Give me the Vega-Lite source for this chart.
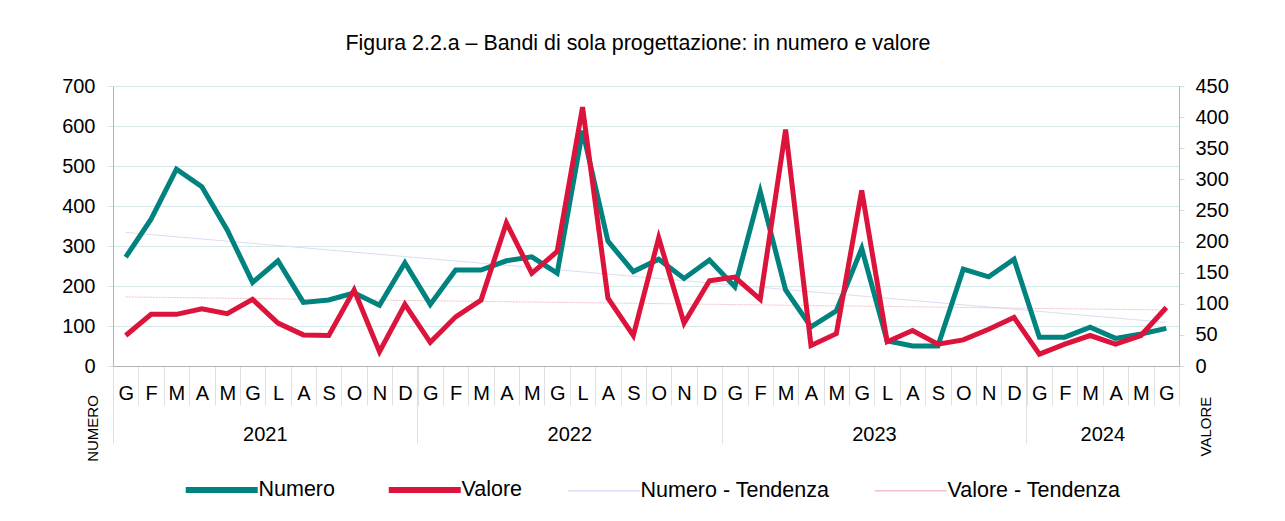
{
  "$schema": "https://vega.github.io/schema/vega-lite/v6.json",
  "width": 1066,
  "height": 280,
  "autosize": {"type": "none"},
  "padding": {"left": 113, "top": 86, "right": 106, "bottom": 155},
  "background": "white",
  "title": {
    "text": "Figura 2.2.a – Bandi di sola progettazione: in numero e valore",
    "fontSize": 21.4,
    "fontWeight": "normal",
    "font": "Liberation Sans",
    "color": "#000000",
    "anchor": "middle",
    "baseline": "alphabetic",
    "dx": -8,
    "offset": 5
  },
  "config": {
    "view": {"stroke": null},
    "font": "Liberation Sans"
  },
  "datasets": {
    "main": [
      {"mese": "2021-01", "numero": 272, "valore": 49},
      {"mese": "2021-02", "numero": 367, "valore": 83},
      {"mese": "2021-03", "numero": 492, "valore": 83},
      {"mese": "2021-04", "numero": 448, "valore": 92},
      {"mese": "2021-05", "numero": 340, "valore": 84},
      {"mese": "2021-06", "numero": 209, "valore": 107},
      {"mese": "2021-07", "numero": 263, "valore": 69},
      {"mese": "2021-08", "numero": 159, "valore": 50},
      {"mese": "2021-09", "numero": 165, "valore": 49},
      {"mese": "2021-10", "numero": 183, "valore": 122},
      {"mese": "2021-11", "numero": 152, "valore": 23},
      {"mese": "2021-12", "numero": 258, "valore": 99},
      {"mese": "2022-01", "numero": 154, "valore": 38},
      {"mese": "2022-02", "numero": 240, "valore": 79},
      {"mese": "2022-03", "numero": 240, "valore": 106},
      {"mese": "2022-04", "numero": 263, "valore": 230},
      {"mese": "2022-05", "numero": 273, "valore": 149},
      {"mese": "2022-06", "numero": 232, "valore": 184},
      {"mese": "2022-07", "numero": 588, "valore": 416},
      {"mese": "2022-08", "numero": 312, "valore": 109},
      {"mese": "2022-09", "numero": 236, "valore": 49},
      {"mese": "2022-10", "numero": 267, "valore": 206},
      {"mese": "2022-11", "numero": 219, "valore": 69},
      {"mese": "2022-12", "numero": 265, "valore": 137},
      {"mese": "2023-01", "numero": 198, "valore": 143},
      {"mese": "2023-02", "numero": 436, "valore": 107},
      {"mese": "2023-03", "numero": 190, "valore": 380},
      {"mese": "2023-04", "numero": 98, "valore": 33},
      {"mese": "2023-05", "numero": 138, "valore": 52},
      {"mese": "2023-06", "numero": 294, "valore": 282},
      {"mese": "2023-07", "numero": 63, "valore": 39},
      {"mese": "2023-08", "numero": 50, "valore": 57},
      {"mese": "2023-09", "numero": 50, "valore": 35},
      {"mese": "2023-10", "numero": 242, "valore": 42},
      {"mese": "2023-11", "numero": 223, "valore": 59},
      {"mese": "2023-12", "numero": 267, "valore": 78},
      {"mese": "2024-01", "numero": 72, "valore": 19},
      {"mese": "2024-02", "numero": 72, "valore": 35},
      {"mese": "2024-03", "numero": 97, "valore": 49},
      {"mese": "2024-04", "numero": 69, "valore": 35},
      {"mese": "2024-05", "numero": 80, "valore": 49},
      {"mese": "2024-06", "numero": 94, "valore": 94}
    ],
    "trend": [
      {"mese": "2021-01", "numero_t": 334, "valore_t": 111},
      {"mese": "2024-06", "numero_t": 109, "valore_t": 90}
    ]
  },
  "layer": [
    {
      "data": {"name": "trend"},
      "mark": {"type": "line", "strokeWidth": 1},
      "encoding": {
        "x": {
          "field": "mese", "type": "ordinal",
          "scale": {"type": "band", "paddingInner": 0, "paddingOuter": 0},
          "axis": {
            "orient": "bottom",
            "values": ["2021-01", "2022-01", "2023-01", "2024-01"],
            "bandPosition": 0,
            "tickExtra": false,
            "ticks": true,
            "tickSize": 77,
            "tickColor": "#e0e0e0",
            "tickWidth": 1,
            "labels": false,
            "domain": false,
            "grid": false,
            "title": null
          }
        },
        "y": {"field": "numero_t", "type": "quantitative", "scale": {"domain": [0, 700]}, "axis": null},
        "color": {"datum": "Numero - Tendenza", "type": "nominal"}
      }
    },
    {
      "data": {"name": "trend"},
      "mark": {"type": "line", "strokeWidth": 1, "strokeDash": [2, 1]},
      "encoding": {
        "x": {
          "field": "mese", "type": "ordinal",
          "scale": {"type": "band", "paddingInner": 0, "paddingOuter": 0},
          "axis": null
        },
        "y": {"field": "valore_t", "type": "quantitative", "scale": {"domain": [0, 450]}, "axis": null},
        "color": {"datum": "Valore - Tendenza", "type": "nominal"}
      }
    },
    {
      "data": {"name": "main"},
      "mark": {"type": "line", "strokeWidth": 5},
      "encoding": {
        "x": {
          "field": "mese", "type": "ordinal",
          "scale": {"type": "band", "paddingInner": 0, "paddingOuter": 0},
          "axis": {
            "orient": "bottom",
            "title": null,
            "labelExpr": "['G','F','M','A','M','G','L','A','S','O','N','D'][toNumber(substring(datum.value,5,7))-1]",
            "labelAngle": 0,
            "labelFontSize": 20,
            "labelColor": "#000000",
            "labelBaseline": "alphabetic",
            "labelPadding": -6,
            "labelOverlap": false,
            "labelFlush": false,
            "tickBand": "extent",
            "tickSize": 39,
            "tickColor": "#e0e0e0",
            "domain": true,
            "domainColor": "#b3b3b3",
            "domainWidth": 1,
            "grid": false
          }
        },
        "y": {
          "field": "numero", "type": "quantitative",
          "scale": {"domain": [0, 700]},
          "axis": {
            "orient": "left",
            "values": [0, 100, 200, 300, 400, 500, 600, 700],
            "grid": true,
            "gridColor": "#d4e8e6",
            "gridWidth": 1,
            "domain": true,
            "domainColor": "#b3b3b3",
            "ticks": true,
            "tickSize": 6,
            "tickColor": "#d4e8e6",
            "labelFontSize": 20,
            "labelColor": "#000000",
            "labelPadding": 12,
            "title": "NUMERO",
            "titleFontSize": 15,
            "titleFontWeight": "normal",
            "titleColor": "#000000",
            "titleAngle": 270,
            "titleX": -21,
            "titleY": 342,
            "titleAlign": "center",
            "titleBaseline": "middle"
          }
        },
        "color": {
          "datum": "Numero", "type": "nominal",
          "scale": {
            "domain": ["Numero", "Valore", "Numero - Tendenza", "Valore - Tendenza"],
            "range": ["#00827F", "#DC143C", "#DCDCF2", "#F3BFCB"]
          },
          "legend": {
            "orient": "none",
            "legendX": 98,
            "legendY": 393,
            "direction": "horizontal",
            "title": null,
            "padding": 0,
            "symbolType": "stroke",
            "symbolSize": 5184,
            "columnPadding": 41,
            "labelOffset": 26,
            "labelFontSize": 21.5,
            "labelColor": "#000000",
            "labelLimit": 400,
            "encode": {
              "symbols": {
                "update": {
                  "strokeWidth": {"signal": "datum.value === 'Numero' || datum.value === 'Valore' ? 6 : 1.5"}
                }
              }
            }
          }
        }
      }
    },
    {
      "data": {"name": "main"},
      "mark": {"type": "line", "strokeWidth": 5},
      "encoding": {
        "x": {
          "field": "mese", "type": "ordinal",
          "scale": {"type": "band", "paddingInner": 0, "paddingOuter": 0},
          "axis": {
            "orient": "bottom",
            "title": null,
            "values": ["2021-07", "2022-07", "2023-07", "2024-04"],
            "labelExpr": "substring(datum.value,0,4)",
            "labelAngle": 0,
            "labelFontSize": 20,
            "labelColor": "#000000",
            "labelBaseline": "alphabetic",
            "labelOffset": -12.69,
            "labelPadding": 74,
            "labelOverlap": false,
            "labelFlush": false,
            "ticks": false,
            "domain": false,
            "grid": false
          }
        },
        "y": {
          "field": "valore", "type": "quantitative",
          "scale": {"domain": [0, 450]},
          "axis": {
            "orient": "right",
            "values": [0, 50, 100, 150, 200, 250, 300, 350, 400, 450],
            "grid": false,
            "domain": true,
            "domainColor": "#b3b3b3",
            "ticks": true,
            "tickSize": 5,
            "tickColor": "#d9d9d9",
            "labelFontSize": 20,
            "labelColor": "#000000",
            "labelPadding": 11,
            "title": "VALORE",
            "titleFontSize": 15,
            "titleFontWeight": "normal",
            "titleColor": "#000000",
            "titleAngle": 270,
            "titleX": 26,
            "titleY": 340,
            "titleAlign": "center",
            "titleBaseline": "middle"
          }
        },
        "color": {"datum": "Valore", "type": "nominal"}
      }
    }
  ],
  "resolve": {
    "scale": {"y": "independent"},
    "axis": {"x": "independent", "y": "independent"}
  }
}
